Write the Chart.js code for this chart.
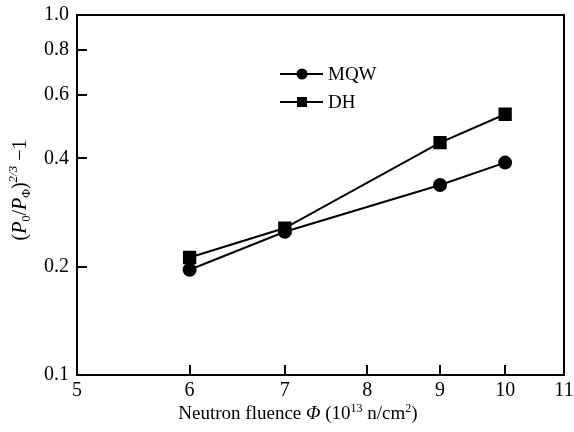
<!DOCTYPE html>
<html>
<head>
<meta charset="utf-8">
<script src="https://cdn.jsdelivr.net/npm/chart.js@4/dist/chart.umd.min.js"></script>
<style>
  html, body { margin: 0; padding: 0; background: #fff; }
</style>
</head>
<body>
<canvas id="fluenceChart" width="574" height="432"></canvas>
<script>
const fluence = [6, 7, 9, 10];
const mqw = [0.196, 0.250, 0.337, 0.389];
const dh = [0.212, 0.256, 0.442, 0.530];
const xTicks = [5, 6, 7, 8, 9, 10, 11];
const yTicks = [0.1, 0.2, 0.4, 0.6, 0.8, 1.0];

const serif = "'Liberation Serif', 'Times New Roman', serif";

// draws a run of text pieces (sub/superscripts, italics) starting at x
function drawRich(ctx, parts, x, y) {
  let cx = x;
  parts.forEach(p => {
    ctx.font = (p.italic ? "italic " : "") + p.size + "px " + serif;
    ctx.fillText(p.t, cx, y + (p.dy || 0));
    cx += ctx.measureText(p.t).width;
  });
  return cx - x;
}

function richWidth(ctx, parts) {
  let w = 0;
  parts.forEach(p => {
    ctx.font = (p.italic ? "italic " : "") + p.size + "px " + serif;
    w += ctx.measureText(p.t).width;
  });
  return w;
}

const xTitle = [
  { t: "Neutron fluence ", size: 19 },
  { t: "Φ", size: 19, italic: true },
  { t: " (10", size: 19 },
  { t: "13", size: 12, dy: -7 },
  { t: " n/cm", size: 19 },
  { t: "2", size: 12, dy: -7 },
  { t: ")", size: 19 }
];

const yTitle = [
  { t: "(", size: 20 },
  { t: "P", size: 20, italic: true },
  { t: "0", size: 12, dy: 4 },
  { t: "/", size: 20 },
  { t: "P", size: 20, italic: true },
  { t: "Φ", size: 12, dy: 4 },
  { t: ")", size: 20 },
  { t: "2/3", size: 13, italic: true, dy: -9 },
  { t: " −1", size: 20 }
];

const framePlugin = {
  id: "frame",
  afterDraw(chart) {
    const ctx = chart.ctx;
    const a = chart.chartArea;
    const xs = chart.scales.x;
    const ys = chart.scales.y;
    ctx.save();
    ctx.strokeStyle = "#000";
    ctx.lineWidth = 2;
    ctx.strokeRect(a.left, a.top, a.right - a.left, a.bottom - a.top);

    // inward tick marks on bottom and left
    ctx.beginPath();
    xTicks.forEach(v => {
      const px = Math.round(xs.getPixelForValue(v));
      ctx.moveTo(px, a.bottom);
      ctx.lineTo(px, a.bottom - 10);
    });
    yTicks.forEach(v => {
      const py = Math.round(ys.getPixelForValue(v));
      ctx.moveTo(a.left, py);
      ctx.lineTo(a.left + 10, py);
    });
    ctx.stroke();

    // legend
    ctx.fillStyle = "#000";
    ctx.lineWidth = 2;
    const rows = [
      { label: "MQW", y: 74, style: "circle" },
      { label: "DH", y: 102, style: "rect" }
    ];
    rows.forEach(r => {
      ctx.beginPath();
      ctx.moveTo(280, r.y);
      ctx.lineTo(323, r.y);
      ctx.stroke();
      if (r.style === "circle") {
        ctx.beginPath();
        ctx.arc(302, r.y, 5.5, 0, Math.PI * 2);
        ctx.fill();
      } else {
        ctx.fillRect(297, r.y - 5, 10, 10);
      }
      ctx.font = "19px " + serif;
      ctx.textBaseline = "middle";
      ctx.textAlign = "left";
      ctx.fillText(r.label, 328, r.y + 1);
    });

    // axis titles
    ctx.textBaseline = "alphabetic";
    const xw = richWidth(ctx, xTitle);
    drawRich(ctx, xTitle, 298 - xw / 2, 419);

    const yw = richWidth(ctx, yTitle);
    ctx.translate(26, 190);
    ctx.rotate(-Math.PI / 2);
    drawRich(ctx, yTitle, -yw / 2, 0);
    ctx.restore();
  }
};

const ctx = document
  .getElementById("fluenceChart")
  .getContext("2d");

new Chart(ctx, {
  type: "line",

  data: {
    datasets: [
      {
        label: "MQW",
        data: fluence.map((x, i) => ({ x: x, y: mqw[i] })),
        borderColor: "#000",
        backgroundColor: "#000",
        borderWidth: 2,
        pointStyle: "circle",
        pointRadius: 6,
        pointHoverRadius: 6
      },
      {
        label: "DH",
        data: fluence.map((x, i) => ({ x: x, y: dh[i] })),
        borderColor: "#000",
        backgroundColor: "#000",
        borderWidth: 2,
        pointStyle: "rect",
        pointRadius: 8,
        pointHoverRadius: 8
      }
    ]
  },

  options: {
    responsive: false,
    animation: false,
    devicePixelRatio: 1,

    layout: {
      padding: { left: 0, right: 10, top: 15, bottom: 0 }
    },

    plugins: {
      legend: { display: false },
      tooltip: { enabled: false }
    },

    scales: {
      x: {
        type: "logarithmic",
        min: 5,
        max: 11,
        afterBuildTicks: s => { s.ticks = xTicks.map(v => ({ value: v })); },
        afterFit: s => {
          s.height = 57;
          s.paddingLeft = 0;
          s.paddingRight = 0;
        },
        grid: { display: false, drawTicks: false },
        border: { display: false },
        ticks: {
          color: "#000",
          font: { family: serif, size: 20 },
          padding: 4,
          maxRotation: 0,
          autoSkip: false,
          callback: v => String(v)
        }
      },

      y: {
        type: "logarithmic",
        min: 0.1,
        max: 1.0,
        afterBuildTicks: s => { s.ticks = yTicks.map(v => ({ value: v })); },
        afterFit: s => {
          s.width = 77;
          s.paddingTop = 0;
          s.paddingBottom = 0;
        },
        grid: { display: false, drawTicks: false },
        border: { display: false },
        ticks: {
          color: "#000",
          font: { family: serif, size: 20 },
          padding: 8,
          autoSkip: false,
          callback: v => v.toFixed(1)
        }
      }
    }
  },

  plugins: [framePlugin]
});
</script>
</body>
</html>
